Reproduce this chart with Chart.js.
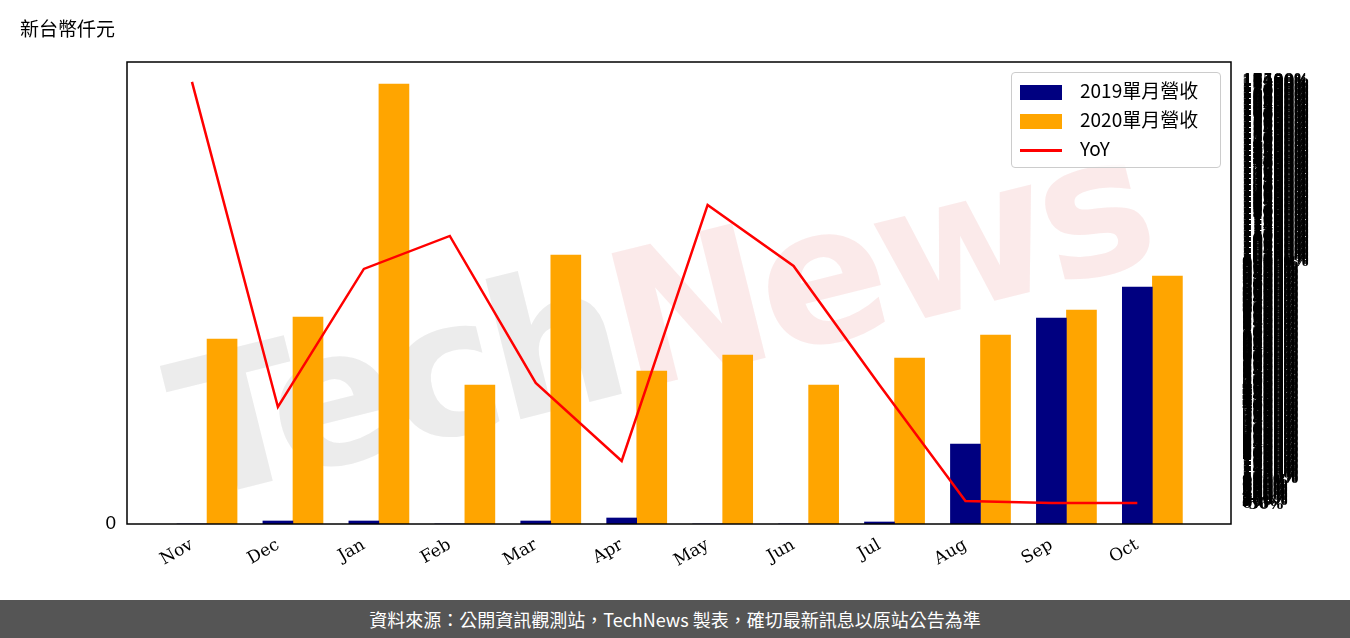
<!DOCTYPE html>
<html><head><meta charset="utf-8">
<script src="https://cdn.jsdelivr.net/npm/chart.js@4/dist/chart.umd.min.js"></script>
<style>
body{margin:0;width:1350px;height:638px;background:#fff;position:relative;overflow:hidden;font-family:"DejaVu Sans",sans-serif}
#title{position:absolute;left:20px;top:14px;font-size:19px;color:#000;font-family:"Noto Sans CJK TC"}
#wm{position:absolute;left:150px;top:330px;font-size:190px;font-family:"DejaVu Sans";font-weight:bold;transform:rotate(-14deg);transform-origin:0 0;color:rgba(200,200,200,0.35);letter-spacing:-8px;white-space:nowrap}
#wm span{color:rgba(240,170,170,0.25)}
#c{position:absolute;left:0;top:0}
#foot{position:absolute;left:0;top:600px;width:1350px;height:38px;background:#555;color:#fff;font-size:18px;text-align:center;line-height:38px;font-family:"Noto Sans CJK TC"}
#leg{position:absolute;left:1011px;top:72px;width:208px;height:94px;border:1px solid #ccc;border-radius:4px;background:rgba(255,255,255,0.8);font-family:"Noto Sans CJK TC","DejaVu Serif";font-size:19px}
.li{position:absolute;left:8px;height:26px;line-height:26px}
.sw{display:inline-block;width:42px;height:15px;vertical-align:middle;margin-right:18px}
</style></head><body>
<div id="wm">Tech<span>News</span></div>
<canvas id="c" width="1350" height="600"></canvas>
<div id="title">新台幣仟元</div>
<div id="leg">
<div class="li" style="top:4px"><span class="sw" style="background:#000080"></span>2019單月營收</div>
<div class="li" style="top:33px"><span class="sw" style="background:#FFA500"></span>2020單月營收</div>
<div class="li" style="top:62px"><span class="sw" style="height:3px;background:#f00"></span>YoY</div>
</div>
<div id="foot">資料來源：公開資訊觀測站，TechNews 製表，確切最新訊息以原站公告為準</div>
<script>
const months=["Nov","Dec","Jan","Feb","Mar","Apr","May","Jun","Jul","Aug","Sep","Oct"];
const rev2019=[0,3,3,0,3,6,0,0,2,80,206,237];
const rev2020=[185,207,440,139,269,153,169,139,166,189,214,248];
const yoy=[17420,3997,9697,11060,4989,1767,12340,9820,4906,115,33,33];
const yoyTicks=[];for(let v=-50;v<=17500;v+=50)yoyTicks.push(v);

const box={id:'box',afterDraw(ch){const a=ch.chartArea,c=ch.ctx;c.save();c.strokeStyle='#000';c.lineWidth=1.5;c.strokeRect(a.left,a.top,a.right-a.left,a.bottom-a.top);c.restore();}};
new Chart(document.getElementById('c'),{
 type:'bar',
 data:{datasets:[
  {type:'line',label:'YoY',data:yoy.map((v,i)=>({x:i,y:v})),yAxisID:'y2',borderColor:'#f00',borderWidth:2.5,pointRadius:0,tension:0,order:0},
  {label:'2019單月營收',data:rev2019.map((v,i)=>({x:i,y:v})),backgroundColor:'#000080',barThickness:30,yAxisID:'y',order:1},
  {label:'2020單月營收',data:rev2020.map((v,i)=>({x:i+0.35,y:v})),backgroundColor:'#FFA500',barThickness:30,yAxisID:'y',order:1}
 ]},
 options:{responsive:false,animation:false,layout:{padding:{top:62,left:0,right:0,bottom:0}},
  datasets:{bar:{grouped:false}},
  plugins:{legend:{display:false},tooltip:{enabled:false}},
  scales:{
   x:{type:'linear',offset:false,min:-0.756,max:12.09,grid:{display:false,offset:false},border:{display:false},
     afterBuildTicks(s){s.ticks=months.map((m,i)=>({value:i}));},
     afterFit(s){s.height=76;},
     ticks:{autoSkip:false,maxRotation:30,minRotation:30,color:'#000',font:{family:'DejaVu Serif',size:17},callback:(v)=>months[v]}},
   y:{min:0,max:462,position:'left',grid:{display:false},border:{display:false},
     afterBuildTicks(s){s.ticks=[{value:0}];},afterFit(s){s.width=127;},
     ticks:{color:'#000',font:{size:19}}},
   y2:{min:-835,max:18243,position:'right',grid:{display:false,drawTicks:true},border:{display:false},
     afterBuildTicks(s){s.ticks=yoyTicks.map(v=>({value:v}));},afterFit(s){s.width=119;},
     ticks:{autoSkip:false,color:'#000',font:{family:'DejaVu Serif',size:15,weight:'bold'},callback:v=>v+'%'}}
  }},
 plugins:[box]
});
</script></body></html>
